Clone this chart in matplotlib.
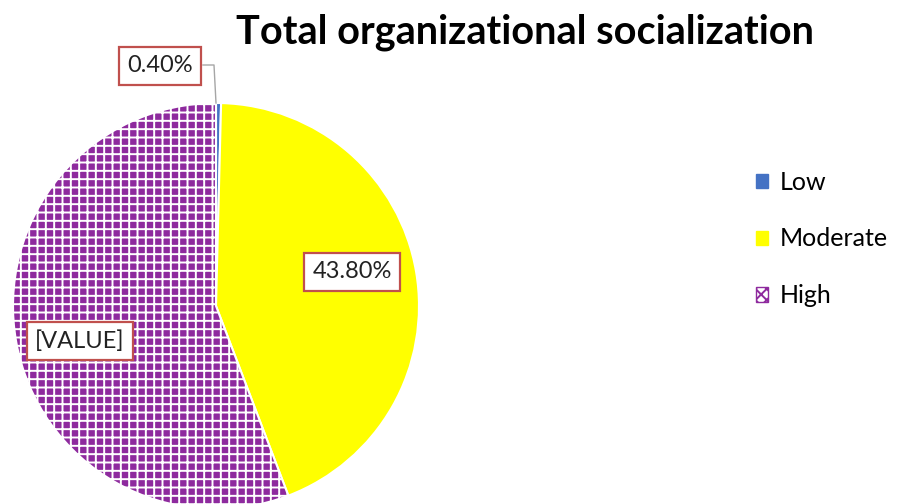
import matplotlib
matplotlib.use("Agg")
import matplotlib.pyplot as plt
from matplotlib.patches import Patch

plt.rcParams['font.family'] = ['Lato', 'DejaVu Sans']
plt.rcParams['hatch.linewidth'] = 1.4

categories = ["Low", "Moderate", "High"]
values = [0.40, 43.80, 55.80]
label_texts = ["0.40%", "43.80%", "[VALUE]"]
colors = ["#4472C4", "#FFFF00", "#8E2A9E"]
title = "Total organizational socialization"

W, H = 897, 504
fig = plt.figure(figsize=(W / 100, H / 100), dpi=100)
ax = fig.add_axes([0, 0, 1, 1])

cx, cy, r = 216, H - 306, 203
wedges, _ = ax.pie(values, colors=colors, startangle=90, counterclock=False,
                   center=(cx, cy), radius=r, frame=True,
                   wedgeprops=dict(edgecolor="white", linewidth=1.5))
# hatch overlay for High
ov, _ = ax.pie(values, colors=["none"] * 3, startangle=90, counterclock=False,
               center=(cx, cy), radius=r, frame=True,
               wedgeprops=dict(linewidth=0))
ov[0].set_visible(False)
ov[1].set_visible(False)
ov[2].set_hatch("++")
ov[2].set_edgecolor("white")
ov[2].set_linewidth(0)

ax.set_xlim(0, W)
ax.set_ylim(0, H)
ax.set_aspect("equal")
ax.axis("off")

box = dict(boxstyle="square,pad=0.35", facecolor="white", edgecolor="#C0504D", linewidth=1.6)
label_pos = [(160, H - 66), (352, H - 272), (80, H - 341)]
for txt, (x, y) in zip(label_texts, label_pos):
    ax.text(x, y, txt, ha="center", va="center", fontsize=17, color="#222222", bbox=box, zorder=5)

# leader line for the small slice
ax.plot([203, 214, 216], [H - 65, H - 65, H - 103], color="#A6A6A6", linewidth=1, zorder=4)

fig.text(525 / W, 1 - 32 / H, title, ha="center", va="center", fontsize=28.5, fontweight="bold")

handles = [Patch(facecolor=colors[0], edgecolor=colors[0]),
           Patch(facecolor=colors[1], edgecolor=colors[1]),
           Patch(facecolor="white", edgecolor=colors[2], hatch="xxx")]
leg = fig.legend(handles, categories, loc="center left", bbox_to_anchor=(733 / W, 1 - 239 / H),
                 frameon=False, fontsize=18, handlelength=0.5, handleheight=0.5,
                 handletextpad=0.45, labelspacing=1.35)

fig.savefig("out.png", dpi=100)
